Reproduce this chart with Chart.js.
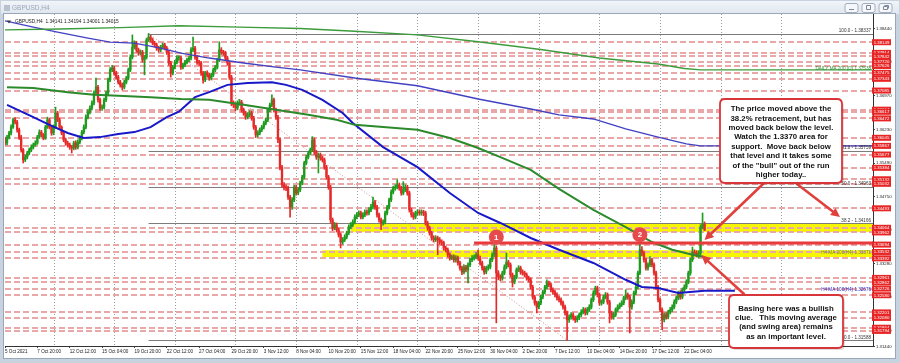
<!DOCTYPE html>
<html><head><meta charset="utf-8">
<script src="https://cdn.jsdelivr.net/npm/chart.js@4.4.1/dist/chart.umd.min.js"></script>
<style>
html,body{margin:0;padding:0;width:900px;height:363px;overflow:hidden;background:#cfd9e5;}
canvas{position:absolute;left:0;top:0;}
</style></head><body>
<canvas id="c" width="900" height="363"></canvas>
<script>
// ---------------- DATA ----------------
const firstOpen = 1.3600;
const closes = [
1.3593,1.3606,1.3615,1.3628,1.3644,1.3639,1.3622,1.3606,1.3578,1.3556,
1.3562,1.3571,1.3578,1.3584,1.3589,1.3593,1.3606,1.3617,1.3611,1.3604,
1.3628,1.3644,1.3628,1.3615,1.3628,1.3659,1.3644,1.3628,1.3615,1.3600,
1.3593,1.3589,1.3584,1.3582,1.3593,1.3584,1.3595,1.3604,1.3617,1.3628,
1.3650,1.3661,1.3670,1.3681,1.3703,1.3716,1.3688,1.3670,1.3672,1.3688,
1.3703,1.3732,1.3754,1.3758,1.3747,1.3738,1.3727,1.3721,1.3716,1.3727,
1.3736,1.3754,1.3782,1.3804,1.3813,1.3798,1.3791,1.3793,1.3776,1.3782,
1.3820,1.3826,1.3820,1.3813,1.3809,1.3802,1.3798,1.3804,1.3809,1.3802,
1.3793,1.3769,1.3747,1.3760,1.3771,1.3780,1.3780,1.3760,1.3765,1.3771,
1.3776,1.3780,1.3798,1.3802,1.3782,1.3771,1.3769,1.3747,1.3732,1.3747,
1.3743,1.3736,1.3743,1.3754,1.3760,1.3776,1.3798,1.3793,1.3791,1.3780,
1.3769,1.3738,1.3681,1.3677,1.3670,1.3681,1.3683,1.3666,1.3659,1.3650,
1.3655,1.3659,1.3648,1.3628,1.3611,1.3615,1.3622,1.3628,1.3637,1.3644,
1.3666,1.3677,1.3688,1.3666,1.3650,1.3600,1.3540,1.3501,1.3496,1.3494,
1.3474,1.3452,1.3468,1.3496,1.3483,1.3490,1.3505,1.3518,1.3549,1.3562,
1.3571,1.3578,1.3600,1.3573,1.3562,1.3567,1.3560,1.3556,1.3540,1.3518,
1.3496,1.3424,1.3406,1.3413,1.3402,1.3391,1.3375,1.3380,1.3386,1.3395,
1.3408,1.3413,1.3419,1.3430,1.3435,1.3439,1.3430,1.3435,1.3441,1.3439,
1.3446,1.3452,1.3463,1.3452,1.3435,1.3424,1.3417,1.3419,1.3439,1.3452,
1.3468,1.3485,1.3494,1.3496,1.3501,1.3494,1.3483,1.3490,1.3496,1.3483,
1.3446,1.3435,1.3430,1.3439,1.3441,1.3439,1.3441,1.3439,1.3417,1.3406,
1.3395,1.3384,1.3380,1.3384,1.3380,1.3375,1.3373,1.3362,1.3358,1.3347,
1.3340,1.3342,1.3336,1.3340,1.3329,1.3318,1.3309,1.3320,1.3314,1.3325,
1.3336,1.3340,1.3342,1.3347,1.3340,1.3329,1.3318,1.3309,1.3318,1.3320,
1.3336,1.3347,1.3362,1.3307,1.3298,1.3296,1.3307,1.3320,1.3331,1.3325,
1.3303,1.3287,1.3298,1.3314,1.3318,1.3309,1.3307,1.3303,1.3296,1.3292,
1.3276,1.3254,1.3241,1.3232,1.3241,1.3254,1.3265,1.3276,1.3285,1.3281,
1.3270,1.3265,1.3259,1.3252,1.3248,1.3241,1.3232,1.3219,1.3204,1.3210,
1.3215,1.3208,1.3204,1.3208,1.3215,1.3221,1.3226,1.3219,1.3226,1.3232,
1.3248,1.3263,1.3274,1.3259,1.3241,1.3243,1.3254,1.3259,1.3243,1.3219,
1.3210,1.3215,1.3226,1.3232,1.3237,1.3241,1.3252,1.3259,1.3254,1.3232,
1.3243,1.3263,1.3276,1.3307,1.3358,1.3351,1.3336,1.3318,1.3325,1.3336,
1.3325,1.3307,1.3276,1.3248,1.3226,1.3204,1.3215,1.3210,1.3221,1.3226,
1.3232,1.3243,1.3252,1.3263,1.3254,1.3270,1.3276,1.3287,1.3307,1.3336,
1.3353,1.3351,1.3347,1.3351,1.3408,1.3414,1.34015];
const highs = [
1.3606,1.3610,1.3619,1.3633,1.3648,1.3649,1.3643,1.3626,1.3610,1.3581,
1.3567,1.3575,1.3582,1.3589,1.3593,1.3598,1.3610,1.3622,1.3621,1.3614,
1.3632,1.3650,1.3648,1.3631,1.3633,1.3672,1.3663,1.3648,1.3631,1.3619,
1.3604,1.3597,1.3593,1.3588,1.3597,1.3598,1.3600,1.3609,1.3621,1.3633,
1.3655,1.3666,1.3675,1.3686,1.3708,1.3736,1.3720,1.3692,1.3677,1.3692,
1.3707,1.3736,1.3759,1.3764,1.3762,1.3751,1.3742,1.3731,1.3725,1.3731,
1.3740,1.3758,1.3787,1.3831,1.3818,1.3817,1.3802,1.3798,1.3797,1.3786,
1.3824,1.3834,1.3830,1.3824,1.3817,1.3813,1.3806,1.3808,1.3813,1.3813,
1.3806,1.3797,1.3773,1.3764,1.3775,1.3785,1.3785,1.3784,1.3769,1.3775,
1.3780,1.3784,1.3803,1.3826,1.3806,1.3786,1.3775,1.3773,1.3751,1.3751,
1.3752,1.3747,1.3747,1.3758,1.3764,1.3780,1.3816,1.3803,1.3797,1.3795,
1.3784,1.3773,1.3742,1.3686,1.3682,1.3686,1.3689,1.3687,1.3670,1.3663,
1.3660,1.3664,1.3663,1.3652,1.3632,1.3620,1.3626,1.3632,1.3641,1.3648,
1.3670,1.3681,1.3699,1.3692,1.3670,1.3654,1.3604,1.3544,1.3506,1.3501,
1.3498,1.3478,1.3473,1.3500,1.3500,1.3494,1.3509,1.3522,1.3553,1.3566,
1.3575,1.3582,1.3607,1.3604,1.3577,1.3571,1.3571,1.3564,1.3560,1.3544,
1.3522,1.3500,1.3428,1.3418,1.3417,1.3406,1.3395,1.3385,1.3391,1.3399,
1.3413,1.3418,1.3424,1.3435,1.3440,1.3444,1.3443,1.3440,1.3446,1.3446,
1.3451,1.3458,1.3474,1.3467,1.3456,1.3439,1.3428,1.3424,1.3443,1.3456,
1.3472,1.3490,1.3498,1.3501,1.3512,1.3505,1.3498,1.3508,1.3501,1.3500,
1.3487,1.3450,1.3440,1.3443,1.3446,1.3446,1.3446,1.3445,1.3443,1.3421,
1.3410,1.3399,1.3389,1.3389,1.3388,1.3385,1.3380,1.3377,1.3366,1.3362,
1.3351,1.3347,1.3347,1.3345,1.3344,1.3333,1.3322,1.3325,1.3324,1.3329,
1.3340,1.3345,1.3347,1.3352,1.3358,1.3344,1.3333,1.3322,1.3322,1.3325,
1.3340,1.3351,1.3369,1.3366,1.3312,1.3303,1.3311,1.3325,1.3351,1.3335,
1.3329,1.3307,1.3302,1.3318,1.3323,1.3322,1.3314,1.3311,1.3307,1.3300,
1.3296,1.3280,1.3258,1.3245,1.3245,1.3258,1.3269,1.3280,1.3292,1.3289,
1.3285,1.3274,1.3269,1.3263,1.3256,1.3252,1.3245,1.3236,1.3223,1.3215,
1.3220,1.3219,1.3212,1.3213,1.3219,1.3226,1.3231,1.3230,1.3231,1.3237,
1.3252,1.3268,1.3278,1.3278,1.3263,1.3248,1.3258,1.3264,1.3263,1.3247,
1.3223,1.3220,1.3230,1.3237,1.3241,1.3246,1.3256,1.3270,1.3263,1.3258,
1.3248,1.3267,1.3280,1.3311,1.3380,1.3365,1.3355,1.3340,1.3329,1.3343,
1.3340,1.3329,1.3311,1.3280,1.3252,1.3230,1.3219,1.3220,1.3225,1.3231,
1.3237,1.3248,1.3256,1.3267,1.3268,1.3274,1.3281,1.3292,1.3311,1.3340,
1.3364,1.3358,1.3356,1.3356,1.3413,1.3439,1.34194];
const lows = [
1.3588,1.3589,1.3602,1.3611,1.3625,1.3635,1.3617,1.3601,1.3573,1.3549,
1.3552,1.3558,1.3567,1.3574,1.3580,1.3586,1.3590,1.3603,1.3607,1.3600,
1.3601,1.3625,1.3624,1.3610,1.3611,1.3625,1.3640,1.3624,1.3611,1.3596,
1.3588,1.3584,1.3579,1.3571,1.3578,1.3579,1.3580,1.3591,1.3600,1.3613,
1.3624,1.3646,1.3657,1.3666,1.3677,1.3699,1.3683,1.3665,1.3665,1.3668,
1.3684,1.3699,1.3728,1.3750,1.3742,1.3734,1.3723,1.3716,1.3710,1.3712,
1.3723,1.3732,1.3750,1.3778,1.3800,1.3793,1.3786,1.3787,1.3771,1.3743,
1.3778,1.3816,1.3815,1.3809,1.3804,1.3797,1.3793,1.3794,1.3800,1.3798,
1.3788,1.3764,1.3738,1.3743,1.3756,1.3767,1.3775,1.3755,1.3756,1.3761,
1.3767,1.3772,1.3776,1.3794,1.3777,1.3766,1.3764,1.3742,1.3725,1.3728,
1.3738,1.3731,1.3732,1.3739,1.3750,1.3756,1.3772,1.3788,1.3786,1.3775,
1.3764,1.3733,1.3675,1.3671,1.3664,1.3666,1.3676,1.3661,1.3654,1.3645,
1.3646,1.3651,1.3643,1.3623,1.3605,1.3606,1.3611,1.3618,1.3624,1.3633,
1.3640,1.3662,1.3673,1.3661,1.3645,1.3594,1.3534,1.3496,1.3490,1.3488,
1.3469,1.3430,1.3447,1.3464,1.3478,1.3479,1.3486,1.3501,1.3514,1.3545,
1.3558,1.3567,1.3574,1.3568,1.3557,1.3527,1.3555,1.3551,1.3535,1.3513,
1.3491,1.3418,1.3400,1.3402,1.3397,1.3386,1.3362,1.3370,1.3376,1.3382,
1.3391,1.3404,1.3409,1.3415,1.3426,1.3431,1.3426,1.3426,1.3431,1.3434,
1.3435,1.3442,1.3448,1.3447,1.3430,1.3419,1.3402,1.3412,1.3415,1.3435,
1.3448,1.3464,1.3481,1.3489,1.3492,1.3489,1.3478,1.3479,1.3486,1.3478,
1.3441,1.3430,1.3425,1.3426,1.3434,1.3434,1.3434,1.3433,1.3412,1.3401,
1.3390,1.3379,1.3375,1.3376,1.3347,1.3370,1.3368,1.3357,1.3353,1.3342,
1.3335,1.3336,1.3331,1.3331,1.3324,1.3313,1.3303,1.3305,1.3309,1.3285,
1.3321,1.3332,1.3335,1.3338,1.3335,1.3324,1.3313,1.3304,1.3305,1.3313,
1.3316,1.3332,1.3343,1.3197,1.3292,1.3290,1.3291,1.3303,1.3316,1.3320,
1.3298,1.3276,1.3283,1.3294,1.3310,1.3304,1.3302,1.3298,1.3291,1.3287,
1.3271,1.3249,1.3236,1.3219,1.3228,1.3237,1.3250,1.3261,1.3272,1.3276,
1.3265,1.3260,1.3254,1.3247,1.3243,1.3236,1.3227,1.3214,1.3159,1.3198,
1.3205,1.3203,1.3198,1.3199,1.3204,1.3211,1.3217,1.3214,1.3215,1.3222,
1.3228,1.3244,1.3259,1.3254,1.3236,1.3236,1.3239,1.3250,1.3238,1.3197,
1.3205,1.3205,1.3211,1.3222,1.3228,1.3233,1.3237,1.3248,1.3249,1.3175,
1.3227,1.3239,1.3259,1.3272,1.3303,1.3345,1.3331,1.3313,1.3313,1.3321,
1.3320,1.3302,1.3271,1.3243,1.3221,1.3182,1.3199,1.3205,1.3206,1.3217,
1.3222,1.3228,1.3239,1.3248,1.3249,1.3250,1.3265,1.3272,1.3283,1.3302,
1.3332,1.3346,1.3342,1.3340,1.3346,1.3404,1.34001];

// moving averages: [bar index, price]
const dailyMa200 = [[0,1.3842],[27,1.3844],[57,1.3847],[86,1.3851],[116,1.3848],[146,1.3845],[173,1.3839],[204,1.3831],[234,1.3816],[265,1.3799],[294,1.3780],[323,1.3767],[336,1.3757],[344,1.3754],[429,1.3754]];
const dailyMa100 = [[0,1.3862],[14,1.3848],[26,1.3837],[41,1.3824],[52,1.3815],[64,1.3813],[77,1.3802],[87,1.3791],[101,1.3780],[118,1.3769],[134,1.3760],[146,1.3754],[173,1.3736],[204,1.3719],[234,1.3690],[260,1.3668],[274,1.3655],[291,1.3646],[307,1.3624],[323,1.3606],[337,1.3591],[344,1.35867],[429,1.35867]];
const h4Ma200 = [[1,1.3716],[14,1.3714],[31,1.3705],[44,1.3699],[56,1.3697],[72,1.3694],[87,1.3690],[101,1.3688],[118,1.3677],[134,1.3666],[150,1.3655],[164,1.3644],[173,1.3633],[187,1.3628],[204,1.3622],[220,1.3604],[234,1.3582],[245,1.3562],[260,1.3534],[274,1.3492],[291,1.3446],[307,1.3408],[320,1.3375],[330,1.3358],[340,1.3347],[346,1.3342]];
const h4Ma100 = [[1,1.3677],[14,1.3650],[22,1.3633],[31,1.3615],[39,1.3604],[47,1.3606],[56,1.3613],[64,1.3617],[72,1.3628],[80,1.3650],[86,1.3662],[94,1.3694],[101,1.3705],[110,1.3721],[120,1.3725],[132,1.3727],[139,1.3721],[147,1.3710],[157,1.3688],[167,1.3659],[172,1.3637],[187,1.3584],[204,1.3540],[220,1.3483],[234,1.3439],[245,1.3417],[260,1.3384],[274,1.3358],[291,1.3329],[307,1.3292],[315,1.3276],[323,1.3274],[333,1.3263],[346,1.3268],[361,1.3268]];

const xTickBars = [0,16,32,48,64,80,96,112,128,144,160,176,192,208,224,240,256,272,288,304,320,336];
const xTickLabels = ['5 Oct 2021','7 Oct 20:00','12 Oct 12:00','15 Oct 04:00','19 Oct 20:00','22 Oct 12:00','27 Oct 04:00','29 Oct 20:00','3 Nov 12:00','8 Nov 04:00','10 Nov 20:00','15 Nov 12:00','18 Nov 04:00','22 Nov 20:00','25 Nov 12:00','30 Nov 04:00','2 Dec 20:00','7 Dec 12:00','10 Dec 04:00','14 Dec 20:00','17 Dec 12:00','22 Dec 04:00'];
const weekGridBars = [24,54,84,114,144,174,204,234,264,294,324,354,384];
const yTickValues = [1.38440,1.37710,1.36970,1.36230,1.35490,1.34750,1.34010,1.33280,1.32540,1.31800,1.31440];

const redLevels = [1.38149,1.37914,1.37842,1.37720,1.37626,1.37475,1.37343,1.37085,1.36664,1.36617,1.36472,1.36045,1.35867,1.35677,1.35384,1.35132,1.35032,1.34493,1.34064,1.33962,1.33694,1.33532,1.33392,1.32961,1.32862,1.32726,1.32580,1.32201,1.32080,1.31864,1.31794];

const fibLevelNames = ['100.0','61.8','50.0','38.2','0.0'];
const fibPrices = [1.38337,1.35759,1.34963,1.34166,1.31588];
const fibStartBar = 71, fibEndBar = 278;

const bandLows = [1.3397,1.3342], bandHighs = [1.3415,1.3357], bandStartBars = [171,157];
const keyLevel = 1.3373, keyLevelStartBar = 232;
const swingMarkers = [[243,1.3386,'1'],[314,1.3391,'2']];

// ---------------- CHART ----------------
const opens = closes.map((c,i)=> i===0 ? firstOpen : closes[i-1]);
const bull='#1f9c1f', bear='#e52a2a';
const cols = closes.map((c,i)=> c>=opens[i] ? bull : bear);
const FONT='"Liberation Sans", Arial, sans-serif';
Chart.defaults.font.family = FONT;

function roundRect(c,x,y,w,h,r){c.beginPath();c.moveTo(x+r,y);c.lineTo(x+w-r,y);c.quadraticCurveTo(x+w,y,x+w,y+r);c.lineTo(x+w,y+h-r);c.quadraticCurveTo(x+w,y+h,x+w-r,y+h);c.lineTo(x+r,y+h);c.quadraticCurveTo(x,y+h,x,y+h-r);c.lineTo(x,y+r);c.quadraticCurveTo(x,y,x+r,y);c.closePath();}
function arrow(c,x1,y1,x2,y2){
  const a=Math.atan2(y2-y1,x2-x1), L=9, H=4.5;
  const bx=x2-L*Math.cos(a), by=y2-L*Math.sin(a);
  c.strokeStyle='#e0413c'; c.fillStyle='#e0413c'; c.lineWidth=2.6; c.lineCap='round';
  c.beginPath(); c.moveTo(x1,y1); c.lineTo(bx,by); c.stroke();
  c.beginPath(); c.moveTo(x2,y2); c.lineTo(bx+H*Math.sin(a),by-H*Math.cos(a)); c.lineTo(bx-H*Math.sin(a),by+H*Math.cos(a)); c.closePath(); c.fill();
}
function noteBox(c,x,y,w,h,lines,y0,lh){
  c.save();
  c.fillStyle='rgba(0,0,0,0.12)'; roundRect(c,x+2,y+2,w,h,5); c.fill();
  c.fillStyle='#fff'; roundRect(c,x,y,w,h,5); c.fill();
  c.strokeStyle='#d8353b'; c.lineWidth=1.8; c.stroke();
  c.fillStyle='#111'; c.font='bold 7.8px '+FONT; c.textAlign='center'; c.textBaseline='middle';
  lines.forEach((t,i)=>c.fillText(t,x+w/2,y0+i*lh));
  c.restore();
}

const chrome = {
  id:'chrome',
  beforeDraw(chart){
    const c=chart.ctx; c.save();
    c.fillStyle='#c9d3df'; c.fillRect(0,0,900,363);
    const g=c.createLinearGradient(0,0,0,14); g.addColorStop(0,'#f3f6fa'); g.addColorStop(1,'#dfe6ef');
    c.fillStyle=g; c.fillRect(1,1,898,13);
    c.fillStyle='#fff'; c.fillRect(4,14,892,344);
    c.strokeStyle='#9aa7b8'; c.lineWidth=1; c.strokeRect(3.5,13.5,892,345);
    // title
    c.fillStyle='#b8c2ce'; c.fillRect(4,5,6,6);
    c.fillStyle='#9ba7b6'; c.font='6.5px '+FONT; c.textBaseline='middle'; c.fillText('GBPUSD,H4',12,8.5);
    // window buttons
    [845,862,879].forEach((bx,i)=>{c.fillStyle='#f5f7fa';roundRect(c,bx,3.5,13,9,2);c.fill();c.strokeStyle='#a3aebc';c.stroke();
      c.strokeStyle='#7d8898';c.beginPath();
      if(i===0){c.moveTo(bx+4,9.5);c.lineTo(bx+9,9.5);} else if(i===1){c.rect(bx+4.5,5.5,4,4);} else {c.rect(bx+4.5,6.5,4,3);c.moveTo(bx+5.5,5.5);c.lineTo(bx+9.5,5.5);c.lineTo(bx+9.5,8.5);}
      c.stroke();});
    c.restore();
  },
  beforeDatasetsDraw(chart){
    const c=chart.ctx, a=chart.chartArea, X=chart.scales.x, Y=chart.scales.y;
    c.save(); c.beginPath(); c.rect(a.left,a.top,a.right-a.left,a.bottom-a.top); c.clip();
    // weekly grid
    c.strokeStyle='#9c9c9c'; c.lineWidth=1; c.setLineDash([1,2]);
    weekGridBars.forEach(b=>{const x=Math.round(X.getPixelForValue(b))+0.5;c.beginPath();c.moveTo(x,a.top);c.lineTo(x,a.bottom);c.stroke();});
    // yellow bands
    c.setLineDash([]); c.fillStyle='#f6f600';
    bandLows.forEach((lo,i)=>{const y1=Y.getPixelForValue(bandHighs[i]), y2=Y.getPixelForValue(lo), x=X.getPixelForValue(bandStartBars[i]);c.fillRect(x,y1,a.right-x,y2-y1);});
    // pink levels
    c.strokeStyle='#e9a7a7'; c.lineWidth=2; c.setLineDash([6,3]);
    redLevels.forEach(v=>{const y=Math.round(Y.getPixelForValue(v));c.beginPath();c.moveTo(a.left,y);c.lineTo(a.right,y);c.stroke();});
    // fibo lines
    c.setLineDash([]); c.strokeStyle='#7c7c7c'; c.lineWidth=1;
    const fx=X.getPixelForValue(fibStartBar);
    fibPrices.forEach(v=>{const y=Math.round(Y.getPixelForValue(v))+0.5;c.beginPath();c.moveTo(fx,y);c.lineTo(a.right,y);c.stroke();});
    c.strokeStyle='#cf8c8c'; c.setLineDash([1,2]);
    c.beginPath(); c.moveTo(fx,Y.getPixelForValue(fibPrices[0])); c.lineTo(X.getPixelForValue(fibEndBar),Y.getPixelForValue(fibPrices[4])); c.stroke();
    c.restore();
  },
  afterDatasetsDraw(chart){
    const c=chart.ctx, a=chart.chartArea, X=chart.scales.x, Y=chart.scales.y;
    c.save(); c.beginPath(); c.rect(a.left,a.top,a.right-a.left,a.bottom-a.top); c.clip();
    // key level line
    c.strokeStyle='#e8393b'; c.lineWidth=3;
    const ky=Y.getPixelForValue(keyLevel);
    c.beginPath(); c.moveTo(X.getPixelForValue(keyLevelStartBar),ky); c.lineTo(a.right,ky); c.stroke();
    // swing markers
    swingMarkers.forEach(m=>{const x=X.getPixelForValue(m[0]), y=Y.getPixelForValue(m[1]);
      c.fillStyle='#e64a4c'; c.beginPath(); c.arc(x,y,7.5,0,Math.PI*2); c.fill();
      c.fillStyle='#fff'; c.font='bold 8px '+FONT; c.textAlign='center'; c.textBaseline='middle'; c.fillText(m[2],x,y+0.5);});
    // labels
    c.font='4.6px '+FONT; c.textAlign='right'; c.textBaseline='bottom';
    const R=a.right-2;
    c.fillStyle='#333';
    fibPrices.forEach((v,i)=>{c.fillText(fibLevelNames[i]+' - '+v.toFixed(5),R,Y.getPixelForValue(v)-0.5);});
    c.fillStyle='#2f8f2f'; c.fillText('DAILY MA 200 (D) 1.37538',R,Y.getPixelForValue(1.3754)+1);
    c.fillStyle='#3535c8'; c.fillText('Daily  1.35867',R-36,Y.getPixelForValue(1.35867)+1);
    c.fillStyle='#6d8b16'; c.fillText('H4 MA 200(H4) 1.33371',R,Y.getPixelForValue(1.3350)+2);
    c.fillStyle='#2626c8'; c.fillText('H4 MA 100(H4) 1.32676',R,Y.getPixelForValue(1.3268)+1);
    // header
    c.restore();
    c.save();
    c.fillStyle='#333'; c.beginPath(); c.moveTo(7,20.5); c.lineTo(11,20.5); c.lineTo(9,23.5); c.closePath(); c.fill();
    c.fillStyle='#222'; c.font='4.8px '+FONT; c.textBaseline='middle'; c.textAlign='left';
    c.fillText('GBPUSD,H4  1.34141 1.34194 1.34001 1.34015',15,22);
    c.restore();
  },
  afterDraw(chart){
    const c=chart.ctx, a=chart.chartArea, X=chart.scales.x, Y=chart.scales.y;
    c.save();
    // red price labels on axis
    c.font='4.3px '+FONT; c.textAlign='center'; c.textBaseline='middle';
    redLevels.forEach(v=>{const y=Y.getPixelForValue(v);c.fillStyle='#e82525';c.fillRect(a.right-1,y-3,19,6);c.fillStyle='#fff';c.fillText(v.toFixed(5),a.right+8.5,y+0.3);});
    // arrows
    arrow(c,763,184,X.getPixelForValue(345)+2,Y.getPixelForValue(1.3373)-3);
    arrow(c,797,184,840,217);
    arrow(c,744,294,X.getPixelForValue(344)+1,Y.getPixelForValue(1.3348)+1);
    // annotation boxes
    noteBox(c,720,99,122,84,['The price moved above the','38.2% retracement, but has','moved back below the level.','Watch the 1.3370 area for','support.  Move back below','that level and it takes some','of the "bull" out of the run','higher today..'],109,9.4);
    noteBox(c,729,295,114,53,['Basing here was a bullish','clue.   This moving average','(and swing area) remains','as an important level.'],308.5,9.4);
    c.restore();
  }
};

const ds = (arr,col,w)=>({type:'line',data:arr.map(p=>({x:p[0],y:p[1]})),borderColor:col,borderWidth:w,pointRadius:0,tension:0,order:0});

new Chart(document.getElementById('c'),{
  type:'bar',
  data:{datasets:[
    ds(dailyMa200,'#3c9c3c',1.4),
    ds(dailyMa100,'#4141c4',1.4),
    ds(h4Ma200,'#2b8a2b',2),
    ds(h4Ma100,'#1818c8',2),
    {type:'bar',data:closes.map((c,i)=>({x:i,y:[lows[i],highs[i]]})),backgroundColor:cols,barThickness:1,grouped:false,order:3},
    {type:'bar',data:closes.map((c,i)=>({x:i,y:[opens[i],c]})),backgroundColor:cols,barThickness:1.7,minBarLength:1,grouped:false,order:2}
  ]},
  options:{
    responsive:false, animation:false, devicePixelRatio:1,
    layout:{padding:{left:5,top:14,right:5,bottom:6}},
    plugins:{legend:{display:false},tooltip:{enabled:false}},
    scales:{
      x:{type:'linear',min:0,max:429.3,offset:false,
        afterBuildTicks:s=>{s.ticks=xTickBars.map(v=>({value:v}));},
        afterFit:s=>{s.height=11;},
        grid:{display:true,drawOnChartArea:false,drawTicks:true,tickLength:2,color:'#444',offset:false},
        border:{display:true,color:'#333'},
        ticks:{autoSkip:false,maxRotation:0,minRotation:0,align:'start',padding:1,color:'#222',font:{size:4.6},
          callback:(v)=>{const k=xTickBars.indexOf(v);return k>=0?xTickLabels[k]:'';}}},
      y:{type:'linear',position:'right',min:1.31462,max:1.38770,
        afterBuildTicks:s=>{s.ticks=yTickValues.map(v=>({value:v}));},
        afterFit:s=>{s.width=22;},
        grid:{display:true,drawOnChartArea:false,drawTicks:true,tickLength:2,color:'#444'},
        border:{display:true,color:'#333'},
        ticks:{autoSkip:false,padding:1,color:'#222',font:{size:4.3},callback:v=>Number(v).toFixed(5)}}
    }
  },
  plugins:[chrome]
});
</script></body></html>
